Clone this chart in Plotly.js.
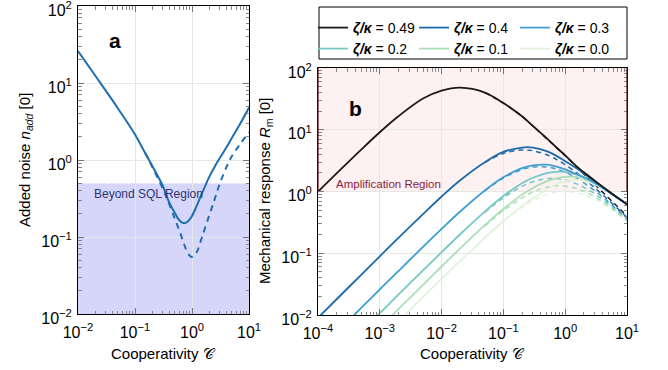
<!DOCTYPE html>
<html><head><meta charset="utf-8">
<script src="https://cdn.plot.ly/plotly-3.0.1.min.js"></script>
<style>html,body{margin:0;padding:0;background:#fff}#chart{width:668px;height:370px}</style>
</head><body><div id="chart"></div>
<script>
// ---------- panel a : added noise ----------
const coopA       = [0.01,0.02,0.05,0.1,0.15,0.2,0.3,0.4,0.5,0.6,0.7,0.8,0.9,1.0,1.2,1.5,2,2.5,3,4,5,7,10];
const noiseSolid  = [26,12.5,4.7,2.15,1.24,0.84,0.48,0.28,0.205,0.165,0.152,0.155,0.168,0.188,0.25,0.37,0.6,0.82,1.03,1.45,1.93,2.95,4.8];
const coopAd      = [0.15,0.2,0.3,0.4,0.5,0.6,0.7,0.8,0.9,1.0,1.2,1.5,2,2.5,3,4,5,7,10];
const noiseDashed = [1.24,0.82,0.44,0.265,0.172,0.121,0.088,0.067,0.058,0.055,0.063,0.1,0.19,0.31,0.47,0.8,1.12,1.61,2.29];
const sqlLevel = 0.5;

// ---------- panel b : mechanical response ----------
const coopB  = [1e-4,2e-4,5e-4,1e-3,2e-3,5e-3,1e-2,2e-2,5e-2,0.1,0.2,0.3,0.5,0.7,1,1.5,2,3,5,7,10];
const r049 = [0.99,1.96,4.76,9.1,16.5,32,43,48,40,27,16.5,11.5,7.3,5.3,3.85,2.6,2.05,1.5,1.02,0.8,0.62];
const r04  = [0.009,0.018,0.0448,0.0893,0.177,0.43,0.83,1.52,2.98,4.37,5.15,5.15,4.5,3.85,3.1,2.4,1.95,1.45,1.0,0.79,0.62];
const r03  = [0.0026,0.0052,0.013,0.026,0.0515,0.127,0.248,0.474,1.04,1.7,2.39,2.65,2.72,2.56,2.28,1.92,1.72,1.4,1.0,0.79,0.62];
const r02  = [0.00107,0.00214,0.00535,0.0107,0.0213,0.053,0.104,0.203,0.472,0.843,1.36,1.67,1.98,2.08,2.07,1.9,1.68,1.36,1.0,0.79,0.62];
const r01  = [0.00062,0.00124,0.0031,0.0062,0.0124,0.0308,0.061,0.12,0.285,0.52,0.89,1.14,1.46,1.62,1.72,1.72,1.62,1.35,1.0,0.79,0.62];
const r00  = [0.00039,0.00078,0.00195,0.0039,0.0078,0.0194,0.0385,0.075,0.178,0.33,0.58,0.78,1.08,1.3,1.48,1.55,1.5,1.3,1.0,0.79,0.62];

const coopBd = [0.05,0.1,0.2,0.3,0.5,0.7,1,1.5,2,3,5,7,10];
const r049d = [40,27,16.5,11.5,7.2,5.3,3.8,2.55,1.93,1.3,0.79,0.57,0.4];
const r04d  = [2.94,4.13,4.72,4.57,3.94,3.36,2.71,2.04,1.63,1.15,0.73,0.535,0.38];
const r03d  = [1.02,1.65,2.27,2.49,2.5,2.33,2.05,1.66,1.38,1.03,0.68,0.507,0.37];
const r02d  = [0.457,0.79,1.21,1.44,1.615,1.62,1.535,1.34,1.17,0.916,0.632,0.481,0.353];
const r01d  = [0.275,0.49,0.79,0.98,1.17,1.235,1.22,1.125,1.01,0.82,0.59,0.457,0.34];
const r00d  = [0.181,0.33,0.556,0.71,0.89,0.97,1.0,0.96,0.89,0.75,0.556,0.4375,0.33];
const ampLevel = 1;

const ratioLabels = ['0.49','0.4','0.3','0.2','0.1','0.0'];
const decadeValsA = [0.01,0.1,1,10,100];
const decadeTextA = ['10<sup>−2</sup>','10<sup>−1</sup>','10<sup>0</sup>','10<sup>1</sup>','10<sup>2</sup>'];
const decadeValsB = [1e-4,1e-3,1e-2,0.1,1,10];
const decadeTextB = ['10<sup>−4</sup>','10<sup>−3</sup>','10<sup>−2</sup>','10<sup>−1</sup>','10<sup>0</sup>','10<sup>1</sup>'];

// ---------- build ----------
const colors = ['#1a1a1a','#1d6aab','#419ed2','#76c8c6','#acdfb6','#e3f2dc'];
const solids = [r049,r04,r03,r02,r01,r00];
const dashes = [r049d,r04d,r03d,r02d,r01d,r00d];
const traces = [];
traces.push({x:coopA,y:noiseSolid,xaxis:'x',yaxis:'y',mode:'lines',line:{color:'#1f6eb1',width:2,shape:'spline'},showlegend:false,hoverinfo:'skip'});
traces.push({x:coopAd,y:noiseDashed,xaxis:'x',yaxis:'y',mode:'lines',line:{color:'#1f6eb1',width:2,dash:'6px,5px',shape:'spline'},showlegend:false,hoverinfo:'skip'});
for (let i=5;i>=0;i--){
  traces.push({x:coopBd,y:dashes[i],xaxis:'x2',yaxis:'y2',mode:'lines',line:{color:colors[i],width:1.5,dash:'5px,4px',shape:'spline'},showlegend:false,hoverinfo:'skip'});
}
for (let i=5;i>=0;i--){
  traces.push({x:coopB,y:solids[i],xaxis:'x2',yaxis:'y2',mode:'lines',line:{color:colors[i],width:1.8,shape:'spline'},
    name:'<b><i>ζ/κ</i></b> = '+ratioLabels[i], legend: i<3 ? 'legend' : 'legend2', legendrank:i, hoverinfo:'skip'});
}

const FAM = 'Liberation Sans, Arial, sans-serif';
const tickFont = {family:FAM,size:16,color:'#000'};
function axis(vals,text,range,domain,anchor,letter){
  const a = {type:'log',range:range,domain:domain,anchor:anchor,tickmode:'array',tickvals:vals,ticktext:text,
    ticks:'inside',ticklen:6,tickcolor:'#777',tickwidth:1,showline:true,linecolor:'#000',linewidth:1,mirror:'allticks',
    showgrid:true,gridcolor:'#e6e6e6',gridwidth:1,zeroline:false,tickfont:tickFont,ticklabeloverflow:'allow',
    ticklabelstandoff: letter==='x' ? 4 : 2,
    minor:{ticks:'inside',ticklen:3.5,tickcolor:'#888',dtick:'D1',showgrid:false}};
  if (letter==='y') a.ticklabelshift = 4;
  return a;
}
const W=668,H=370;
const px = v=>v/W, py = v=>1-v/H;
const legendBase = {orientation:'h',xanchor:'left',yanchor:'top',entrywidth:56,entrywidthmode:'pixels',
  font:{family:FAM,size:14,color:'#000'},bgcolor:'rgba(0,0,0,0)',borderwidth:0,traceorder:'normal'};
const lblFont = {family:FAM,size:15,color:'#000'};
function ann(x,y,text,font,extra){
  return Object.assign({xref:'paper',yref:'paper',x:px(x),y:py(y),xanchor:'center',yanchor:'middle',text:text,showarrow:false,font:font},extra||{});
}

const layout = {
  width:W,height:H,margin:{l:0,r:0,t:0,b:0},paper_bgcolor:'#fff',plot_bgcolor:'#fff',
  font:{family:FAM},
  xaxis: axis(decadeValsA,decadeTextA,[-2,1],[px(78),px(249)],'y','x'),
  yaxis: axis(decadeValsA,decadeTextA,[-2,2],[1-314/H,1-6/H],'x','y'),
  xaxis2: axis(decadeValsB,decadeTextB,[-4,1],[px(318),px(627)],'y2','x'),
  yaxis2: axis(decadeValsA,decadeTextA,[-2,2],[1-315/H,1-68/H],'x2','y'),
  legend: Object.assign({x:px(313),y:py(12)},legendBase),
  legend2: Object.assign({x:px(313),y:py(33)},legendBase),
  shapes:[
    {type:'rect',xref:'x domain',yref:'y domain',x0:0,x1:1,y0:0,y1:(Math.log10(sqlLevel)+2)/4,fillcolor:'#d6d6fb',line:{width:0},layer:'below'},
    {type:'line',xref:'x domain',yref:'y domain',x0:0,x1:1,y0:(Math.log10(sqlLevel)+2)/4,y1:(Math.log10(sqlLevel)+2)/4,line:{color:'#f4f4ff',width:1.2,dash:'4px,3px'},layer:'below'},
    {type:'rect',xref:'x2 domain',yref:'y2 domain',x0:0,x1:1,y0:(Math.log10(ampLevel)+2)/4,y1:1,fillcolor:'#fdf1f1',line:{width:0},layer:'below'},
    {type:'line',xref:'x2 domain',yref:'y2 domain',x0:0,x1:1,y0:0.5,y1:0.5,line:{color:'#eeaaaa',width:1,dash:'8px,4px'},layer:'below'},
    {type:'line',xref:'x2 domain',yref:'y2 domain',x0:0,x1:0,y0:0.5,y1:1,line:{color:'#5c0b16',width:1.2},layer:'above'},
    {type:'line',xref:'x2 domain',yref:'y2 domain',x0:1,x1:1,y0:0.5,y1:1,line:{color:'#5c0b16',width:1.2},layer:'above'},
    {type:'rect',xref:'paper',yref:'paper',x0:px(319),x1:px(627),y0:py(59),y1:py(7),line:{color:'#000',width:1},fillcolor:'rgba(0,0,0,0)'}
  ],
  annotations:[
    ann(115,41,'<b>a</b>',{family:FAM,size:21,color:'#000'}),
    ann(355,108,'<b>b</b>',{family:FAM,size:21,color:'#000'}),
    ann(148,194,'Beyond SQL Region',{family:FAM,size:12,color:'#2a3677'}),
    ann(388,184,'Amplification Region',{family:FAM,size:11.5,color:'#8a1c3c'}),
    ann(163,353,'Cooperativity 𝒞',lblFont),
    ann(472,353,'Cooperativity 𝒞',lblFont),
    ann(25,160,'Added noise <i>n<sub>add</sub></i> [0]',lblFont,{textangle:-90}),
    ann(266,191,'Mechanical response <i>R</i><sub>m</sub> [0]',lblFont,{textangle:-90})
  ]
};
Plotly.newPlot('chart',traces,layout,{staticPlot:true,displayModeBar:false});
</script></body></html>
